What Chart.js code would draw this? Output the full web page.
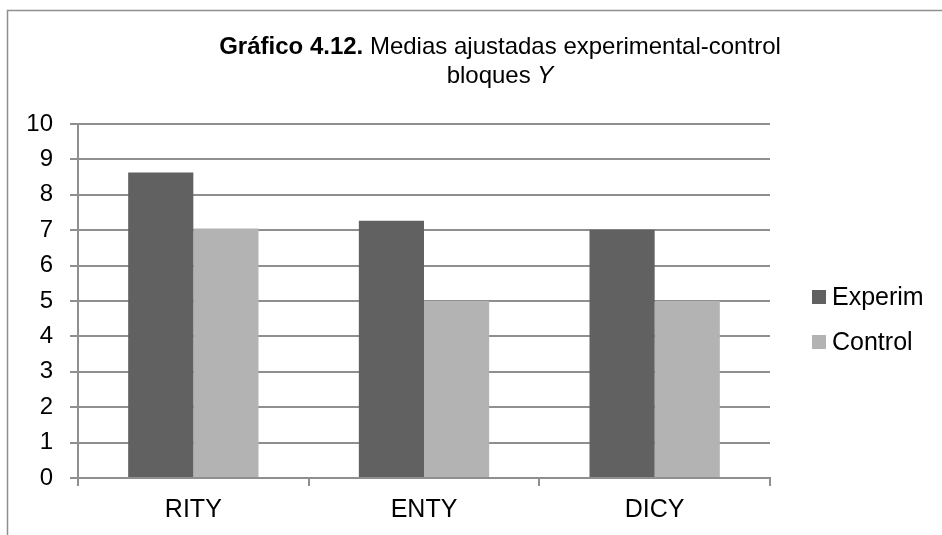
<!DOCTYPE html>
<html>
<head>
<meta charset="utf-8">
<script src="https://cdn.jsdelivr.net/npm/chart.js@4.4.0/dist/chart.umd.min.js"></script>
<style>
  html, body { margin: 0; padding: 0; background: #fff; }
  #wrap { width: 942px; height: 535px; position: relative; }
</style>
</head>
<body>
<div id="wrap"><canvas id="ctx" width="942" height="535"></canvas></div>
<script>
var categories = ["RITY", "ENTY", "DICY"];
var experim = [8.63, 7.27, 7.01];
var control = [7.05, 5.0, 5.0];
var seriesNames = ["Experim", "Control"];
var yTicks = [0, 1, 2, 3, 4, 5, 6, 7, 8, 9, 10];

var fontFamily = "'Liberation Sans', Arial, sans-serif";
var lineColor = "#8f8f8f";

// frame + title + legend drawn by hand
var decor = {
    id: "decor",
    beforeDraw: function (chart) {
        var c = chart.ctx;
        c.save();
        c.fillStyle = "#fff";
        c.fillRect(0, 0, chart.width, chart.height);
        c.strokeStyle = lineColor;
        c.lineWidth = 1.5;
        c.beginPath();
        c.moveTo(7.5, 535);
        c.lineTo(7.5, 10.5);
        c.lineTo(942, 10.5);
        c.stroke();
        c.restore();
    },
    afterDraw: function (chart) {
        var c = chart.ctx;
        c.save();
        c.fillStyle = "#000";
        c.textBaseline = "alphabetic";
        c.textAlign = "left";

        var cx = 500;
        var fs = "24px ";
        var a = "Gráfico 4.12.";
        var b = " Medias ajustadas experimental-control";
        c.font = "bold " + fs + fontFamily;
        var wa = c.measureText(a).width;
        c.font = fs + fontFamily;
        var wb = c.measureText(b).width;
        var x0 = cx - (wa + wb) / 2;
        c.font = "bold " + fs + fontFamily;
        c.fillText(a, x0, 54);
        c.font = fs + fontFamily;
        c.fillText(b, x0 + wa, 54);

        var d = "bloques ";
        var e = "Y";
        var wd = c.measureText(d).width;
        c.font = "italic " + fs + fontFamily;
        var we = c.measureText(e).width;
        var x1 = cx - (wd + we) / 2;
        c.font = fs + fontFamily;
        c.fillText(d, x1, 83);
        c.font = "italic " + fs + fontFamily;
        c.fillText(e, x1 + wd, 83);

        // legend
        c.textBaseline = "middle";
        c.font = "25px " + fontFamily;
        var ly = [297, 342];
        chart.data.datasets.forEach(function (ds, i) {
            c.fillStyle = ds.backgroundColor;
            c.fillRect(812, ly[i] - 7, 14, 14);
            c.fillStyle = "#000";
            c.fillText(ds.label, 832, ly[i] + 1);
        });
        c.restore();
    }
};

new Chart(document.getElementById("ctx"), {
    type: "bar",
    data: {
        labels: categories,
        datasets: [
            {
                label: seriesNames[0],
                data: experim,
                backgroundColor: "#616161",
                categoryPercentage: 0.565,
                barPercentage: 1.0
            },
            {
                label: seriesNames[1],
                data: control,
                backgroundColor: "#b3b3b3",
                categoryPercentage: 0.565,
                barPercentage: 1.0
            }
        ]
    },
    options: {
        responsive: false,
        animation: false,
        layout: { padding: { left: 0, right: 172, top: 124, bottom: 0 } },
        plugins: {
            legend: { display: false },
            title: { display: false },
            tooltip: { enabled: false }
        },
        scales: {
            x: {
                grid: {
                    display: true,
                    drawOnChartArea: false,
                    drawTicks: true,
                    tickLength: 8,
                    color: lineColor,
                    lineWidth: 2
                },
                border: { display: true, color: lineColor, width: 2 },
                ticks: {
                    color: "#000",
                    font: { family: fontFamily, size: 25 },
                    padding: 9
                },
                afterFit: function (scale) { scale.height = 535 - 478; }
            },
            y: {
                min: 0,
                max: 10,
                afterBuildTicks: function (scale) {
                    scale.ticks = yTicks.map(function (v) { return { value: v }; });
                },
                grid: {
                    color: lineColor,
                    lineWidth: 2,
                    tickLength: 8
                },
                border: { display: true, color: lineColor, width: 2 },
                ticks: {
                    color: "#000",
                    font: { family: fontFamily, size: 24 },
                    padding: 17
                },
                afterFit: function (scale) { scale.width = 78; }
            }
        }
    },
    plugins: [decor]
});
</script>
</body>
</html>
